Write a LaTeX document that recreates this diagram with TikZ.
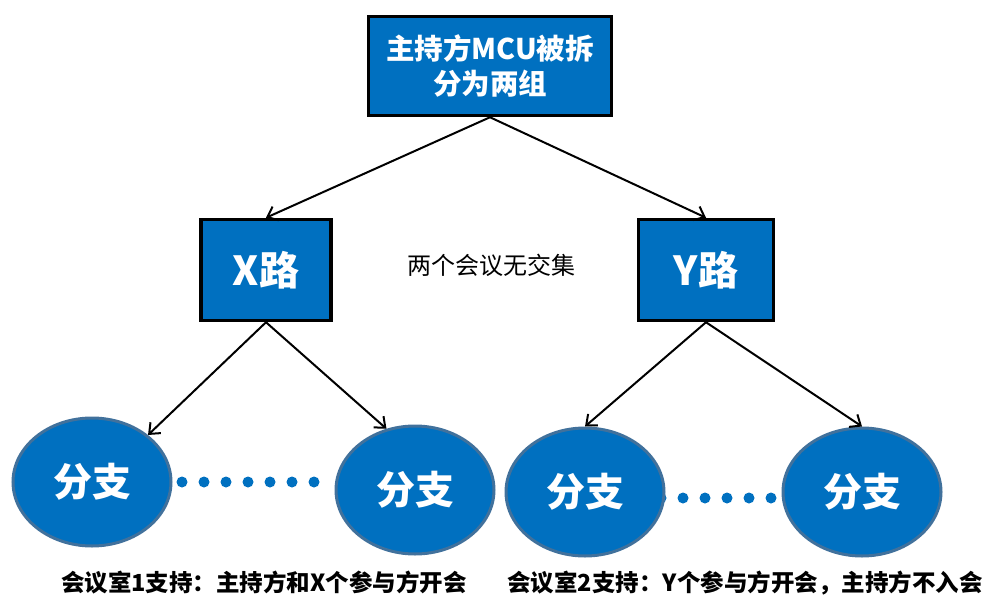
\documentclass[tikz,border=0pt]{standalone}
\usepackage{fontspec}
\usepackage{tikz}
\usetikzlibrary{shapes.geometric,arrows.meta}
\newfontfamily\cjk{Noto Sans CJK SC}
\definecolor{boxblue}{RGB}{0,112,192}
\definecolor{rimblue}{RGB}{65,113,156}

\begin{document}
\begin{tikzpicture}[x=1pt,y=-1pt,
  box/.style={rectangle,draw=black,line width=3.5pt,fill=boxblue,text=white,font=\cjk\bfseries,align=center},
  branch/.style={ellipse,draw=rimblue,line width=3pt,fill=boxblue,text=white,minimum width=158pt,minimum height=128pt,font=\cjk\bfseries\fontsize{39}{40}\selectfont},
  link/.style={-{Straight Barb[length=9pt,width=15pt,line width=2pt]},line width=2pt},
  note/.style={font=\cjk\bfseries\fontsize{23.5}{24}\selectfont}]
\useasboundingbox (0,0) rectangle (986,597);
% dots between the branches
\foreach \i in {0,...,6}
  \fill[boxblue] (182+22*\i,482) circle (5.5pt);
\foreach \i in {0,...,5}
  \fill[boxblue] (661+22*\i,498) circle (5.5pt);
\node [box,minimum width=243pt,minimum height=99pt,font=\cjk\bfseries\fontsize{28.5}{35}\selectfont] (top) at (490,66) {主持方MCU被拆\\分为两组};
\node [box,minimum width=130pt,minimum height=101pt,font=\cjk\bfseries\fontsize{40}{40}\selectfont] (x) at (266,270) {X路};
\node [box,minimum width=135pt,minimum height=101pt,font=\cjk\bfseries\fontsize{40}{40}\selectfont] (y) at (706,270) {Y路};
\node [font=\cjk\fontsize{24}{24}\selectfont] (sep) at (491,265) {两个会议无交集};
\node [branch] (x1) at (92,482) {分支};
\node [branch] (x2) at (415,490) {分支};
\node [branch] (y1) at (585,492) {分支};
\node [branch] (y2) at (862,492) {分支};
\node [note] (room1) at (264,583) {会议室1支持：主持方和X个参与方开会};
\node [note] (room2) at (745,583) {会议室2支持：Y个参与方开会，主持方不入会};
\draw [link] (top.south) -- (x.north);
\draw [link] (top.south) -- (y.north);
\draw [link] (x.south) -- (x1.40);
\draw [link] (x.south) -- (x2.115);
\draw [link] (y.south) -- (y1.north);
\draw [link] (y.south) -- (y2.north);
\end{tikzpicture}
\end{document}
